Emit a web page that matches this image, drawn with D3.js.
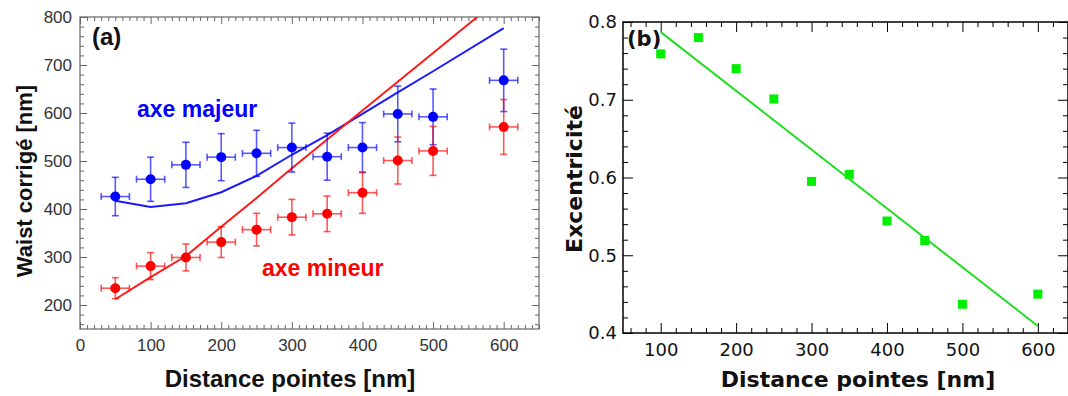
<!DOCTYPE html>
<html><head><meta charset="utf-8">
<script src="https://cdn.jsdelivr.net/npm/d3@7"></script>
<style>
html,body{margin:0;padding:0;background:#fff;}
svg{display:block;}
</style></head>
<body>
<svg id="c" width="1068" height="396"></svg>
<script>
// ---------- Data panel (a) ----------
const distA = [50,100,150,200,250,300,350,400,450,500,600];
const majorY = [426,462,492,508,516,528,509,528,598,592,668];
const majorErr = [40,46,47,49,48,51,49,52,58,58,65];
const minorY = [235,281,299,331,357,383,390,434,501,521,571];
const minorErr = [22,28,28,32,34,37,37,43,49,51,57];
const distErr = 20;
const majorModel = [417,404,412,435,469,513,554,598,643,687,777];
const minorModel = [212,258,302,363,423,485,545,605,665,725,845];
const ticksAX = [0,100,200,300,400,500,600];
const ticksAY = [200,300,400,500,600,700,800];
// ---------- Data panel (b) ----------
const distB = [100,150,200,250,300,350,400,450,500,600];
const excY = [0.759,0.780,0.740,0.701,0.595,0.604,0.544,0.519,0.437,0.450];
const fitX = [100,600];
const fitY = [0.787,0.409];
const ticksBX = [100,200,300,400,500,600];
const ticksBY = [0.4,0.5,0.6,0.7,0.8];

const svg = d3.select("#c");

// ================= Panel (a) =================
const A = {l:80, r:539, t:17, b:329};
const xA = d3.scaleLinear().domain([0,650]).range([A.l,A.r]);
const yA = d3.scaleLinear().domain([150,800]).range([A.b,A.t]);
const fontA = "'Liberation Sans', Arial, sans-serif";
const axCol = "#666";

const defs = svg.append("defs");
defs.append("clipPath").attr("id","clipA").append("rect")
  .attr("x",A.l).attr("y",A.t).attr("width",A.r-A.l).attr("height",A.b-A.t);

function styleAxis(g, col, fs, font, tcol){
  g.selectAll(".domain").remove();
  g.selectAll("line").attr("stroke",col).attr("stroke-width",1);
  g.selectAll("text").attr("font-family",font).attr("font-size",fs).attr("fill",tcol);
}
const minorAX = d3.range(0,651,10).filter(v=>v%100!==0);
const minorAY = d3.range(160,801,20).filter(v=>v%100!==0);

// bottom
svg.append("g").attr("transform",`translate(0,${A.b})`)
  .call(d3.axisBottom(xA).tickValues(ticksAX).tickSizeInner(-7).tickSizeOuter(0).tickPadding(10).tickFormat(d3.format("d")))
  .call(g=>styleAxis(g,axCol,17,fontA,"#333"));
svg.append("g").attr("transform",`translate(0,${A.b})`)
  .call(d3.axisBottom(xA).tickValues(minorAX).tickSize(-4).tickFormat(""))
  .call(g=>styleAxis(g,axCol,17,fontA,"#333"));
// top
svg.append("g").attr("transform",`translate(0,${A.t})`)
  .call(d3.axisTop(xA).tickValues(ticksAX).tickSize(-7).tickFormat(""))
  .call(g=>styleAxis(g,axCol,17,fontA,"#333"));
svg.append("g").attr("transform",`translate(0,${A.t})`)
  .call(d3.axisTop(xA).tickValues(minorAX).tickSize(-4).tickFormat(""))
  .call(g=>styleAxis(g,axCol,17,fontA,"#333"));
// left
svg.append("g").attr("transform",`translate(${A.l},0)`)
  .call(d3.axisLeft(yA).tickValues(ticksAY).tickSizeInner(-7).tickSizeOuter(0).tickPadding(8).tickFormat(d3.format("d")))
  .call(g=>styleAxis(g,axCol,17,fontA,"#333"));
svg.append("g").attr("transform",`translate(${A.l},0)`)
  .call(d3.axisLeft(yA).tickValues(minorAY).tickSize(-4).tickFormat(""))
  .call(g=>styleAxis(g,axCol,17,fontA,"#333"));
// right
svg.append("g").attr("transform",`translate(${A.r},0)`)
  .call(d3.axisRight(yA).tickValues(ticksAY).tickSize(-7).tickFormat(""))
  .call(g=>styleAxis(g,axCol,17,fontA,"#333"));
svg.append("g").attr("transform",`translate(${A.r},0)`)
  .call(d3.axisRight(yA).tickValues(minorAY).tickSize(-4).tickFormat(""))
  .call(g=>styleAxis(g,axCol,17,fontA,"#333"));
// frame
svg.append("rect").attr("x",A.l).attr("y",A.t).attr("width",A.r-A.l).attr("height",A.b-A.t)
  .attr("fill","none").attr("stroke",axCol).attr("stroke-width",1.2);

// model lines
const lineA = d3.line().x((d,i)=>xA(distA[i])).y(d=>yA(d));
const gA = svg.append("g").attr("clip-path","url(#clipA)");
gA.append("path").datum(majorModel).attr("d",lineA).attr("fill","none").attr("stroke","#1a1aff").attr("stroke-width",2);
gA.append("path").datum(minorModel).attr("d",lineA).attr("fill","none").attr("stroke","#ff1a1a").attr("stroke-width",2);

function errPoints(vals, errs, col){
  const g = svg.append("g");
  const cap = 3.5;
  vals.forEach((v,i)=>{
    const x = xA(distA[i]), y = yA(v);
    const y1 = yA(v+errs[i]), y2 = yA(v-errs[i]);
    const x1 = xA(distA[i]-distErr), x2 = xA(distA[i]+distErr);
    const eg = g.append("g").attr("stroke",col).attr("stroke-width",1.6).attr("stroke-opacity",0.65);
    eg.append("line").attr("x1",x).attr("x2",x).attr("y1",y1).attr("y2",y2);
    eg.append("line").attr("x1",x-cap).attr("x2",x+cap).attr("y1",y1).attr("y2",y1);
    eg.append("line").attr("x1",x-cap).attr("x2",x+cap).attr("y1",y2).attr("y2",y2);
    eg.append("line").attr("x1",x1).attr("x2",x2).attr("y1",y).attr("y2",y);
    eg.append("line").attr("x1",x1).attr("x2",x1).attr("y1",y-cap).attr("y2",y+cap);
    eg.append("line").attr("x1",x2).attr("x2",x2).attr("y1",y-cap).attr("y2",y+cap);
    g.append("circle").attr("cx",x).attr("cy",y).attr("r",5).attr("fill",col);
  });
}
errPoints(majorY, majorErr, "#0000ff");
errPoints(minorY, minorErr, "#ff0000");

svg.append("text").attr("x",137).attr("y",117).text("axe majeur")
  .attr("font-family",fontA).attr("font-weight","bold").attr("font-size",23).attr("fill","#0000ff");
svg.append("text").attr("x",262).attr("y",276).text("axe mineur")
  .attr("font-family",fontA).attr("font-weight","bold").attr("font-size",23).attr("fill","#ff0000");
svg.append("text").attr("x",92).attr("y",45).text("(a)")
  .attr("font-family",fontA).attr("font-weight","bold").attr("font-size",24).attr("fill","#111");
svg.append("text").attr("x",290).attr("y",387).attr("text-anchor","middle").text("Distance pointes [nm]")
  .attr("font-family",fontA).attr("font-weight","bold").attr("font-size",24).attr("fill","#111");
svg.append("text").attr("transform","translate(32,181) rotate(-90)").attr("text-anchor","middle").text("Waist corrigé [nm]")
  .attr("font-family",fontA).attr("font-weight","bold").attr("font-size",22).attr("fill","#111");

// ================= Panel (b) =================
const B = {l:623, r:1068, t:22, b:333};
const xB = d3.scaleLinear().domain([50,640]).range([B.l,B.r]);
const yB = d3.scaleLinear().domain([0.4,0.8]).range([B.b,B.t]);
const fontB = "'DejaVu Sans', Verdana, sans-serif";
const bCol = "#000";
const minorBX = d3.range(60,641,20).filter(v=>v%100!==0);
const minorBY = d3.range(0.42,0.8,0.02).filter(v=>Math.abs(v*10-Math.round(v*10))>1e-6);

svg.append("g").attr("transform",`translate(0,${B.b})`)
  .call(d3.axisBottom(xB).tickValues(ticksBX).tickSizeInner(-10).tickSizeOuter(0).tickPadding(10).tickFormat(d3.format("d")))
  .call(g=>styleAxis(g,bCol,18,fontB,"#111"));
svg.append("g").attr("transform",`translate(0,${B.b})`)
  .call(d3.axisBottom(xB).tickValues(minorBX).tickSize(-5).tickFormat(""))
  .call(g=>styleAxis(g,bCol,18,fontB,"#111"));
svg.append("g").attr("transform",`translate(0,${B.t})`)
  .call(d3.axisTop(xB).tickValues(ticksBX).tickSize(-10).tickFormat(""))
  .call(g=>styleAxis(g,bCol,18,fontB,"#111"));
svg.append("g").attr("transform",`translate(0,${B.t})`)
  .call(d3.axisTop(xB).tickValues(minorBX).tickSize(-5).tickFormat(""))
  .call(g=>styleAxis(g,bCol,18,fontB,"#111"));
svg.append("g").attr("transform",`translate(${B.l},0)`)
  .call(d3.axisLeft(yB).tickValues(ticksBY).tickSizeInner(-10).tickSizeOuter(0).tickPadding(6).tickFormat(d3.format(".1f")))
  .call(g=>styleAxis(g,bCol,18,fontB,"#111"));
svg.append("g").attr("transform",`translate(${B.l},0)`)
  .call(d3.axisLeft(yB).tickValues(minorBY).tickSize(-5).tickFormat(""))
  .call(g=>styleAxis(g,bCol,18,fontB,"#111"));
svg.append("g").attr("transform",`translate(${B.r},0)`)
  .call(d3.axisRight(yB).tickValues(ticksBY).tickSize(-10).tickFormat(""))
  .call(g=>styleAxis(g,bCol,18,fontB,"#111"));
svg.append("g").attr("transform",`translate(${B.r},0)`)
  .call(d3.axisRight(yB).tickValues(minorBY).tickSize(-5).tickFormat(""))
  .call(g=>styleAxis(g,bCol,18,fontB,"#111"));
svg.append("rect").attr("x",B.l).attr("y",B.t).attr("width",B.r-B.l).attr("height",B.b-B.t)
  .attr("fill","none").attr("stroke",bCol).attr("stroke-width",1.5);

const lineB = d3.line().x((d,i)=>xB(fitX[i])).y(d=>yB(d));
svg.append("path").datum(fitY).attr("d",lineB).attr("fill","none").attr("stroke","#22dd22").attr("stroke-width",2);
const sq = 9;
svg.append("g").selectAll("rect").data(excY).join("rect")
  .attr("x",(d,i)=>xB(distB[i])-sq/2).attr("y",d=>yB(d)-sq/2)
  .attr("width",sq).attr("height",sq).attr("fill","#00ee00");

svg.append("text").attr("x",627).attr("y",46).text("(b)")
  .attr("font-family",fontB).attr("font-weight","bold").attr("font-size",21).attr("fill","#111");
svg.append("text").attr("x",858).attr("y",387).attr("text-anchor","middle").text("Distance pointes [nm]")
  .attr("font-family",fontB).attr("font-weight","bold").attr("font-size",22).attr("fill","#111");
svg.append("text").attr("transform","translate(582,179) rotate(-90)").attr("text-anchor","middle").text("Excentricité")
  .attr("font-family",fontB).attr("font-weight","bold").attr("font-size",22).attr("fill","#111");
</script>
</body></html>
